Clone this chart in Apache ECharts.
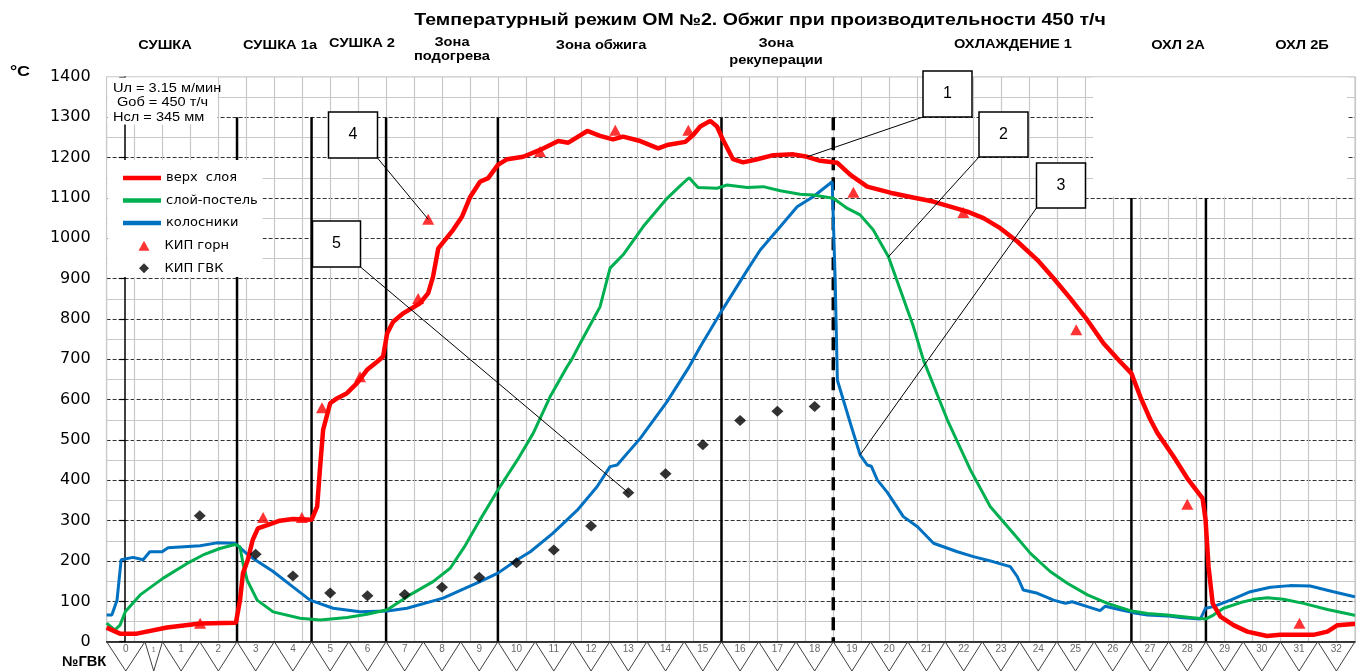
<!DOCTYPE html>
<html>
<head>
<meta charset="utf-8">
<script src="https://cdn.jsdelivr.net/npm/echarts@6/dist/echarts.min.js"></script>
<style>html,body{margin:0;padding:0;background:#fff}#c{width:1357px;height:671px}</style>
</head>
<body>
<div id="c"></div>
<script>
// ---------------- DATA ----------------
// x coordinate: GVK (wind box) number, box n spans [n, n+1]
const gvkLabels = ['0','1','1','2','3','4','5','6','7','8','9','10','11','12','13','14','15','16','17','18','19','20','21','22','23','24','25','26','27','28','29','30','31','32'];
const gvkEdges = [-0.5,0.53,1,2,3,4,5,6,7,8,9,10,11,12,13,14,15,16,17,18,19,20,21,22,23,24,25,26,27,28,29,30,31,32,33];

const zoneNames = ['СУШКА','СУШКА 1а','СУШКА 2','Зона\nподогрева','Зона обжига','Зона\nрекуперации','ОХЛАЖДЕНИЕ 1','ОХЛ 2А','ОХЛ 2Б'];
const zoneBorders = [3,5,7,10,16,19,27,29];
const zoneBorderTops = [1300,1300,1300,1300,1300,1300,1100,1100];

const yTicks = [0,100,200,300,400,500,600,700,800,900,1000,1100,1200,1300,1400];

const seriesNames = ['верх  слоя','слой-постель','колосники','КИП горн','КИП ГВК'];

// верх слоя
const topLayer = [[-0.5,35],[-0.14,20],[0.31,20],[1.12,35],[2.01,45],[2.97,47],[3.08,103],[3.16,170],[3.29,203],[3.42,252],[3.56,281],[3.81,289],[4.15,300],[4.5,304],[5.0,302],[5.15,335],[5.23,434],[5.31,525],[5.5,591],[5.68,603],[5.95,616],[6.22,641],[6.49,674],[6.76,694],[6.92,707],[7.03,765],[7.19,793],[7.46,814],[7.91,839],[8.13,864],[8.26,905],[8.4,975],[8.8,1021],[9.04,1054],[9.26,1103],[9.52,1140],[9.74,1149],[10.0,1182],[10.25,1196],[10.68,1202],[11.13,1219],[11.62,1241],[11.89,1237],[12.4,1266],[12.74,1254],[13.09,1245],[13.36,1252],[13.82,1241],[14.3,1223],[14.54,1231],[15.03,1239],[15.24,1256],[15.43,1277],[15.7,1291],[15.88,1277],[16.04,1244],[16.31,1196],[16.58,1188],[16.96,1196],[17.39,1206],[17.93,1208],[18.3,1202],[18.65,1192],[19.11,1187],[19.46,1157],[19.91,1128],[20.53,1113],[21.14,1101],[21.68,1091],[22.6,1066],[23.03,1050],[23.48,1025],[23.94,992],[24.48,946],[24.91,901],[25.36,851],[25.82,797],[26.25,740],[26.7,694],[27.0,665],[27.24,607],[27.51,550],[27.7,517],[28.13,459],[28.5,405],[28.91,355],[28.99,302],[29.07,186],[29.18,95],[29.39,62],[29.74,41],[30.11,25],[30.64,14],[30.99,17],[31.88,17],[32.26,25],[32.53,41],[32.96,44],[33,44]];

// слой-постель
const bedLayer = [[-0.5,46],[-0.28,29],[-0.14,41],[0.0,74],[0.4,116],[1.01,157],[1.66,194],[2.09,215],[2.54,231],[2.95,241],[3.08,235],[3.16,194],[3.27,153],[3.54,103],[3.97,74],[4.69,58],[5.23,54],[5.95,60],[6.49,68],[7.03,79],[7.64,116],[8.26,149],[8.72,182],[9.1,235],[9.52,302],[10.0,376],[10.52,450],[10.95,517],[11.4,607],[11.86,682],[11.99,701],[12.21,740],[12.74,830],[13.01,926],[13.36,959],[13.9,1029],[14.54,1099],[14.89,1130],[15.13,1150],[15.37,1126],[15.88,1124],[16.15,1132],[16.69,1126],[17.12,1128],[17.58,1118],[18.11,1109],[18.46,1107],[19.0,1099],[19.38,1074],[19.72,1058],[20.07,1021],[20.48,954],[20.8,872],[21.15,781],[21.42,698],[22.06,550],[22.68,426],[23.21,335],[23.83,269],[24.29,219],[24.82,174],[25.28,145],[25.82,116],[26.36,95],[26.97,77],[27.43,70],[27.96,66],[28.58,60],[28.99,56],[29.2,66],[29.47,83],[29.93,97],[30.28,105],[30.65,109],[31.08,105],[31.62,95],[32.26,80],[32.96,66],[33,65]];

// колосники
const grates = [[-0.5,66],[-0.36,66],[-0.22,103],[-0.11,203],[0.21,209],[0.48,203],[0.66,223],[0.99,223],[1.15,233],[2.01,238],[2.46,245],[2.95,244],[3.35,211],[3.97,174],[4.5,136],[4.96,103],[5.58,83],[6.3,74],[7.03,76],[7.56,83],[8.53,108],[9.52,149],[10.0,170],[10.52,203],[10.87,223],[11.48,269],[12.13,326],[12.66,384],[13.01,434],[13.2,438],[13.82,504],[14.54,595],[15.11,678],[15.43,731],[16.02,822],[16.69,921],[17.04,971],[17.58,1029],[18.03,1078],[18.46,1103],[18.97,1140],[19.05,900],[19.11,648],[19.27,599],[19.46,541],[19.72,463],[19.91,438],[20.02,435],[20.18,401],[20.45,370],[20.88,310],[21.26,285],[21.69,244],[22.33,223],[22.76,211],[23.3,198],[23.75,186],[23.94,161],[24.1,128],[24.48,120],[24.91,103],[25.23,95],[25.41,99],[25.82,87],[26.16,77],[26.3,88],[26.7,79],[27.05,72],[27.43,66],[27.96,64],[28.31,60],[28.85,56],[28.99,83],[29.2,87],[29.66,103],[30.19,124],[30.73,135],[31.26,139],[31.8,138],[32.42,124],[32.96,112],[33,111]];

// КИП горн
const gornX = [2.01,3.70,4.74,5.28,6.30,7.86,8.13,11.13,13.15,15.11,19.54,22.49,25.52,28.50,31.51];
const gornY = [46,308,308,580,657,851,1047,1215,1268,1268,1114,1064,773,341,46];

// КИП ГВК
const gvkX = [2.0,3.5,4.5,5.5,6.5,7.5,8.5,9.5,10.5,11.5,12.5,13.5,14.5,15.5,16.5,17.5,18.5];
const gvkY = [312,217,163,121,114,117,135,160,196,227,287,369,416,488,548,571,583];

const paramLines = ['Uл = 3.15 м/мин',' Gоб = 450 т/ч','Hсл = 345 мм'];
const calloutNums = ['1','2','3','4','5'];

// ---------------- LAYOUT ----------------
const FONT = 'Liberation Sans, Arial, sans-serif';
const WIDE = 'DejaVu Sans, Liberation Sans, sans-serif';
const STRETCH = 1.22;
const G = {left:106.6, top:76.9, width:1248.4, height:564.8};
const RED = '#ff0000', GREEN = '#00b050', BLUE = '#0070c0';

const zonePos = [[165,46],[280,46],[362,44],[452,50],[601,46],[776,52],[1013,45],[1178,46],[1302,46]];
const zoneLH = [14,14,14,14,14,17,14,14,14];

const centers = gvkLabels.map((_, i) => (gvkEdges[i] + gvkEdges[i+1]) / 2);
const zig = [];
gvkLabels.forEach((_, i) => { zig.push([gvkEdges[i], 0]); zig.push([centers[i], -1]); });
zig.push([gvkEdges[gvkEdges.length-1], 0]);

const chart = echarts.init(document.getElementById('c'), null, {renderer:'canvas'});

const borderSeries = zoneBorders.map((g, i) => ({
  type:'line', xAxisIndex:0, yAxisIndex:0, silent:true, symbol:'none', z:1,
  data:[[g, zoneBorderTops[i]],[g, 0]],
  lineStyle:{color:'#000', width: g === 19 ? 3.5 : 2.5, type: g === 19 ? [13,7] : 'solid'}
}));

function txt(t, x, y, o) {
  return Object.assign({type:'text', z:60, x:x, y:y, scaleX:o.scaleX || 1,
    style:{text:t, fontSize:o.fontSize, fontWeight:o.fontWeight || 'normal', fontFamily:FONT, fill:'#000',
      lineHeight:o.lineHeight, textAlign:o.align || 'center', textVerticalAlign:'middle', align:o.align || 'center', verticalAlign:'middle'}});
}

const graphics = [];
// white boxes over the grid
graphics.push({type:'rect', z:50, shape:{x:107.5, y:77.5, width:110, height:47}, style:{fill:'#fff'}});
graphics.push({type:'rect', z:50, shape:{x:107.5, y:160, width:155, height:117}, style:{fill:'#fff'}});
graphics.push({type:'rect', z:50, shape:{x:1093, y:77.5, width:254, height:119}, style:{fill:'#fff'}});
const paramPos = [[113,88],[113,102],[113,117]];
paramLines.forEach((t, i) => graphics.push(txt(t, paramPos[i][0], paramPos[i][1], {fontSize:13, align:'left', scaleX:1.12})));
// title
graphics.push(txt('Температурный режим ОМ №2. Обжиг при производительности 450 т/ч', 760, 21, {fontSize:16, fontWeight:'bold', scaleX:STRETCH}));
zoneNames.forEach((t, i) => graphics.push(txt(t, zonePos[i][0], zonePos[i][1], {fontSize:12, fontWeight:'bold', lineHeight:zoneLH[i], scaleX:STRETCH})));
graphics.push(txt('°C', 20, 72, {fontSize:15, fontWeight:'bold', scaleX:1.2}));
graphics.push(txt('№ГВК', 62, 662, {fontSize:14, fontWeight:'bold', align:'left', scaleX:1.05}));

const option = {
  animation:false,
  backgroundColor:'#fff',
  textStyle:{fontFamily:FONT},
  grid:[
    {left:G.left, top:G.top, width:G.width, height:G.height, show:true, borderColor:'#c8c8c8', borderWidth:1.2, backgroundColor:'transparent'},
    {left:G.left, top:G.top+G.height, width:G.width, height:31}
  ],
  xAxis:[
    {type:'value', gridIndex:0, min:-0.5, max:33, interval:0.75,
     axisLabel:{show:false}, axisTick:{show:false},
     axisLine:{show:true, onZero:false, lineStyle:{color:'#000', width:1.5}},
     splitLine:{show:true, lineStyle:{color:'#c8c8c8', width:1.2}}},
    {type:'value', gridIndex:1, min:-0.5, max:33, show:false}
  ],
  yAxis:[
    {type:'value', gridIndex:0, min:yTicks[0], max:yTicks[yTicks.length-1], interval:100,
     axisLine:{show:true, lineStyle:{color:'#000', width:1.5}},
     axisTick:{show:true, inside:false, length:6, lineStyle:{color:'#000', width:1.2}},
     axisLabel:{fontSize:16, color:'#000', margin:16, fontFamily:WIDE, formatter:v => String(v)},
     splitLine:{show:true, showMaxLine:false, showMinLine:false, lineStyle:{color:'#333', width:1, type:[4,2]}},
     minorTick:{show:false, splitNumber:2},
     minorSplitLine:{show:true, lineStyle:{color:'#c8c8c8', width:1.2}}},
    {type:'value', gridIndex:1, min:-1, max:0, show:false}
  ],
  legend:[
    {data:seriesNames.slice(0,3).map(n => ({name:n, icon:'rect'})), orient:'vertical', left:118, top:166, itemWidth:38, itemHeight:4.5, itemGap:8.5, z:100,
     textStyle:{fontSize:13, color:'#000', lineHeight:14, fontFamily:WIDE}, selectedMode:false},
    {data:[{name:seriesNames[3], icon:'path://M5,0L10,9L0,9Z'},{name:seriesNames[4], icon:'path://M5,0L10,5L5,10L0,5Z'}],
     orient:'vertical', left:133.5, top:233.7, itemWidth:11, itemHeight:10, itemGap:8.6, z:100,
     textStyle:{fontSize:13, color:'#000', lineHeight:14, fontFamily:WIDE, padding:[0,0,0,10]}, selectedMode:false}
  ],
  graphic:graphics,
  series:[
    ...borderSeries,
    {name:seriesNames[2], type:'line', data:grates, symbol:'none', z:3, lineStyle:{color:BLUE, width:3}, itemStyle:{color:BLUE}},
    {name:seriesNames[1], type:'line', data:bedLayer, symbol:'none', z:3, lineStyle:{color:GREEN, width:3}, itemStyle:{color:GREEN}},
    {name:seriesNames[0], type:'line', data:topLayer, symbol:'none', z:4, lineStyle:{color:RED, width:4.5}, itemStyle:{color:RED}},
    {name:seriesNames[3], type:'scatter', data:gornX.map((x,i)=>[x,gornY[i]]), symbol:'triangle', symbolSize:[12,11], z:5, itemStyle:{color:RED}},
    {name:seriesNames[4], type:'scatter', data:gvkX.map((x,i)=>[x,gvkY[i]]), symbol:'diamond', symbolSize:[12,11], z:5, itemStyle:{color:'#000'}},
    {type:'line', xAxisIndex:1, yAxisIndex:1, data:zig, symbol:'none', silent:true, z:2, lineStyle:{color:'#404040', width:1}},
    {type:'scatter', xAxisIndex:1, yAxisIndex:1, silent:true, z:3, symbolSize:1, itemStyle:{color:'rgba(0,0,0,0)'},
     data:centers.map((c,i)=>({value:[c,-0.27], label: i===1 ? {fontSize:7} : undefined})),
     label:{show:true, position:'inside', color:'#404040', fontFamily:FONT, fontSize:10,
       formatter:p=>gvkLabels[p.dataIndex]}}
  ]
};

chart.setOption(option);

// callout boxes with leader lines to data points
const toPx = (pt) => chart.convertToPixel({xAxisIndex:0, yAxisIndex:0}, pt);
const nearest = (arr, g) => arr.reduce((b, p) => Math.abs(p[0]-g) < Math.abs(b[0]-g) ? p : b);
const targets = [
  nearest(topLayer, 18.3),
  nearest(bedLayer, 20.48),
  nearest(grates, 19.72),
  [gornX[6], gornY[6]],
  [gvkX[11], gvkY[11]]
];
const boxes = [
  {x:923, y:71, w:49, h:46, corner:'bl'},
  {x:979, y:112, w:49, h:45, corner:'bl'},
  {x:1036.5, y:163, w:49, h:45, corner:'bl'},
  {x:328.5, y:112, w:49, h:46, corner:'br'},
  {x:312.5, y:221, w:48, h:46, corner:'br'}
];
const extra = [];
boxes.forEach((b, i) => {
  const t = toPx(targets[i]);
  const sx = b.corner === 'bl' ? b.x : b.x + b.w;
  const sy = b.y + b.h;
  extra.push({type:'line', z:70, shape:{x1:sx, y1:sy, x2:t[0], y2:t[1]}, style:{stroke:'#000', lineWidth:1}});
  extra.push({type:'rect', z:71, shape:{x:b.x, y:b.y, width:b.w, height:b.h}, style:{fill:'#fff', stroke:'#000', lineWidth:1.5}});
  extra.push({type:'text', z:72, x:b.x + b.w/2, y:b.y + b.h/2, style:{text:calloutNums[i], fontSize:16, fontFamily:FONT, fill:'#000', textAlign:'center', textVerticalAlign:'middle', align:'center', verticalAlign:'middle'}});
});
chart.setOption({graphic: graphics.concat(extra)});
</script>
</body>
</html>
